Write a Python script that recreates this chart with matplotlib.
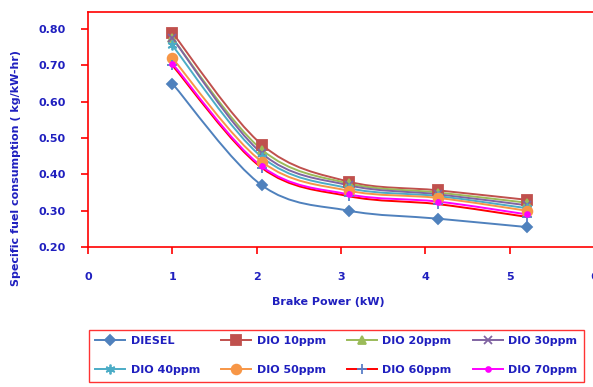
import matplotlib
matplotlib.use('Agg')
import matplotlib.pyplot as plt
from matplotlib.path import Path
from matplotlib.patches import PathPatch
from matplotlib.lines import Line2D

brake_power = [1.0, 2.06, 3.09, 4.15, 5.2]

diesel = [0.65, 0.37, 0.30, 0.278, 0.255]
dio_10 = [0.79, 0.482, 0.38, 0.356, 0.330]
dio_20 = [0.775, 0.468, 0.375, 0.350, 0.322]
dio_30 = [0.775, 0.458, 0.370, 0.345, 0.315]
dio_40 = [0.755, 0.448, 0.362, 0.340, 0.307]
dio_50 = [0.72, 0.435, 0.355, 0.335, 0.300]
dio_60 = [0.70, 0.418, 0.340, 0.318, 0.283]
dio_70 = [0.705, 0.422, 0.345, 0.325, 0.290]

labels = ['DIESEL', 'DIO 10ppm', 'DIO 20ppm', 'DIO 30ppm',
          'DIO 40ppm', 'DIO 50ppm', 'DIO 60ppm', 'DIO 70ppm']
series = [diesel, dio_10, dio_20, dio_30, dio_40, dio_50, dio_60, dio_70]
line_colors = ['#4F81BD', '#C0504D', '#9BBB59', '#8064A2',
               '#4BACC6', '#F79646', '#FF0000', '#FF00FF']
marker_colors = ['#4F81BD', '#C0504D', '#9BBB59', '#8064A2',
                 '#4BACC6', '#F79646', '#5B7FC8', '#FF00FF']
markers = ['D', 's', '^', 'x', (6, 2, 0), 'o', '+', 'o']
marker_sizes = [5, 7.5, 6, 6, 7, 7, 7, 3.5]

TXT = '#1F1FBF'
RED = '#FF0000'


def smooth_path(xs, ys):
    # excel style smoothed line: cubic bezier with catmull-rom control points
    pts = list(zip(xs, ys))
    verts = [pts[0]]
    codes = [Path.MOVETO]
    n = len(pts)
    for i in range(n - 1):
        p0 = pts[max(i - 1, 0)]
        p1 = pts[i]
        p2 = pts[i + 1]
        p3 = pts[min(i + 2, n - 1)]
        c1 = (p1[0] + (p2[0] - p0[0]) / 6, p1[1] + (p2[1] - p0[1]) / 6)
        c2 = (p2[0] - (p3[0] - p1[0]) / 6, p2[1] - (p3[1] - p1[1]) / 6)
        verts += [c1, c2, p2]
        codes += [Path.CURVE4] * 3
    return Path(verts, codes)


def main():
    fig = plt.figure(figsize=(5.93, 3.87), dpi=100)
    ax = fig.add_axes([88 / 593, 1 - 247 / 387, 506 / 593, 235 / 387])

    handles = []
    for vals, lab, lc, mc, mk, ms in zip(series, labels, line_colors,
                                         marker_colors, markers, marker_sizes):
        ax.add_patch(PathPatch(smooth_path(brake_power, vals), facecolor='none',
                               edgecolor=lc, lw=1.4, transform=ax.transData))
        ax.plot(brake_power, vals, ls='none', marker=mk, ms=ms, color=mc,
                mec=mc, mew=1.3)
        handles.append(Line2D([], [], color=lc, lw=1.4, marker=mk, ms=ms,
                              mfc=mc, mec=mc, mew=1.3))

    ax.set_xlim(0, 6)
    ax.set_ylim(0.2, 0.847)
    ax.set_xticks(range(0, 7))
    ax.set_yticks([0.2, 0.3, 0.4, 0.5, 0.6, 0.7, 0.8])
    ax.set_yticklabels([f'{v:.2f}' for v in ax.get_yticks()])
    for s in ax.spines.values():
        s.set_color(RED)
        s.set_linewidth(1.2)
    ax.tick_params(colors=RED, direction='out', length=5, width=1.2,
                   labelcolor=TXT, labelsize=8)
    ax.tick_params(axis='y', pad=11)
    ax.tick_params(axis='x', pad=13)
    for t in ax.get_xticklabels() + ax.get_yticklabels():
        t.set_fontweight('bold')

    fig.text(328 / 593, 1 - 302 / 387, 'Brake Power (kW)', ha='center',
             va='center', color=TXT, fontsize=8, fontweight='bold')
    fig.text(16 / 593, 1 - 168 / 387, 'Specific fuel consumption ( kg/kW-hr)',
             ha='center', va='center', rotation=90, color=TXT, fontsize=8,
             fontweight='bold')

    # legend is filled row by row in the original
    order = [0, 4, 1, 5, 2, 6, 3, 7]
    leg = fig.legend([handles[i] for i in order], [labels[i] for i in order],
                     loc='upper left', ncol=4,
                     bbox_to_anchor=(83 / 593, 1 - 324 / 387),
                     fontsize=8, frameon=True, fancybox=False,
                     handlelength=2.7, handletextpad=0.5, columnspacing=1.9,
                     labelspacing=1.7, borderpad=0.6)
    leg.get_frame().set_edgecolor(RED)
    leg.get_frame().set_linewidth(1.0)
    for t in leg.get_texts():
        t.set_color(TXT)
        t.set_fontweight('bold')

    fig.savefig('out.png', dpi=100)


if __name__ == '__main__':
    main()
